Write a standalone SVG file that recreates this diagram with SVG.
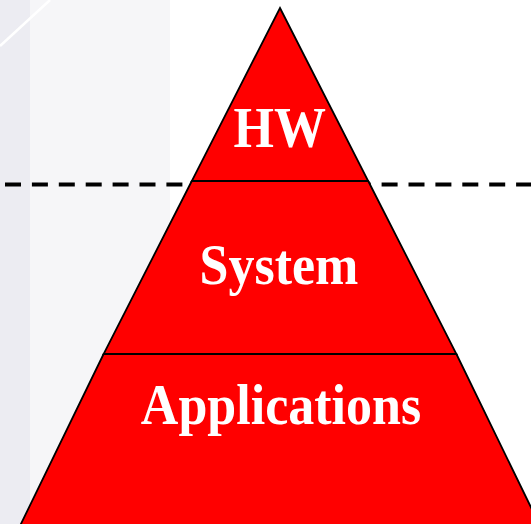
<svg xmlns="http://www.w3.org/2000/svg" width="531" height="524" viewBox="0 0 531 524">
  <style>
    .layer { fill: #ff0000; stroke: #000000; stroke-width: 1.8; stroke-linejoin: miter; }
    .label { font-family: "Liberation Serif", "Times New Roman", serif; font-weight: bold; font-size: 52px; fill: #ffffff; text-anchor: middle; }
    .divider { stroke: #000000; stroke-width: 4; stroke-dasharray: 16 10.9; fill: none; }
  </style>

  <!-- slide background -->
  <rect x="0" y="0" width="531" height="524" fill="#ffffff"/>
  <rect x="0" y="0" width="30" height="524" fill="#ececf2"/>
  <rect x="30" y="0" width="140" height="524" fill="#f6f6f8"/>
  <line x1="0" y1="46" x2="50" y2="0" stroke="#ffffff" stroke-width="2.5"/>

  <!-- dashed boundary -->
  <g id="connectors">
    <line class="divider" x1="5" y1="184.5" x2="531" y2="184.5"/>
  </g>

  <!-- pyramid layers, bottom to top -->
  <g id="applications">
    <polygon class="layer" points="103.6,354 456.4,354 542,530 18,530"/>
    <text class="label" x="281" y="424" transform="translate(0,424) scale(1,1.1) translate(0,-424)">Applications</text>
  </g>
  <g id="system">
    <polygon class="layer" points="191.8,181 368.2,181 456.4,354 103.6,354"/>
    <text class="label" x="279" y="284" transform="translate(0,284) scale(1,1.1) translate(0,-284)">System</text>
  </g>
  <g id="hw">
    <polygon class="layer" points="280,8 368.2,181 191.8,181"/>
    <text class="label" x="279.7" y="147" transform="translate(0,147) scale(1,1.1) translate(0,-147)">HW</text>
  </g>
</svg>
